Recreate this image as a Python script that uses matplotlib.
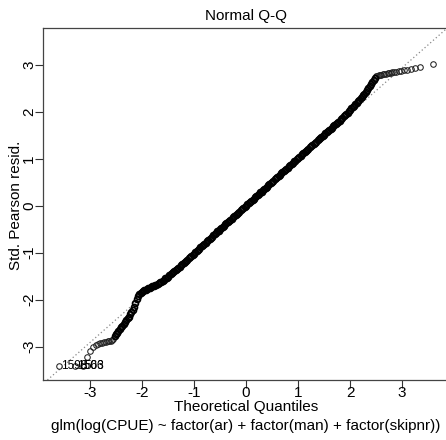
import matplotlib
matplotlib.use("Agg")
import matplotlib.pyplot as plt
import matplotlib.transforms as mtransforms

plt.rcParams['font.family'] = ['Liberation Sans', 'DejaVu Sans']

# lower tail (three tied minima are labelled)
low_x = [-3.59, -3.29, -3.14, -3.05, -2.99, -2.93, -2.88, -2.84, -2.80, -2.76,
         -2.72, -2.69, -2.66, -2.63, -2.60, -2.575, -2.55]
low_y = [-3.42, -3.42, -3.42, -3.21, -3.10, -3.01, -2.97, -2.95, -2.93, -2.92,
         -2.91, -2.90, -2.89, -2.89, -2.88, -2.86, -2.83]

# steep rise around -2.5 .. -1.95
rise_x = [-2.525, -2.5, -2.475, -2.45, -2.425, -2.4, -2.375, -2.35, -2.325, -2.3,
          -2.275, -2.25, -2.225, -2.2, -2.175, -2.15, -2.125, -2.1, -2.075, -2.05,
          -2.025, -2.0, -1.975, -1.95]
rise_y = [-2.78, -2.74, -2.70, -2.66, -2.63, -2.59, -2.56, -2.52, -2.48, -2.44,
          -2.40, -2.36, -2.31, -2.27, -2.22, -2.15, -2.07, -1.98, -1.93, -1.89,
          -1.86, -1.84, -1.82, -1.80]

# body of the distribution
mid_x = [-1.925, -1.9, -1.875, -1.85, -1.825, -1.8, -1.775, -1.75, -1.725, -1.7,
         -1.675, -1.65, -1.625, -1.6, -1.575, -1.55, -1.525, -1.5, -1.475, -1.45,
         -1.425, -1.4, -1.375, -1.35, -1.325, -1.3, -1.275, -1.25, -1.225, -1.2,
         -1.175, -1.15, -1.125, -1.1, -1.075, -1.05, -1.025, -1.0, -0.975, -0.95,
         -0.925, -0.9, -0.875, -0.85, -0.825, -0.8, -0.775, -0.75, -0.725, -0.7,
         -0.675, -0.65, -0.625, -0.6, -0.575, -0.55, -0.525, -0.5, -0.475, -0.45,
         -0.425, -0.4, -0.375, -0.35, -0.325, -0.3, -0.275, -0.25, -0.225, -0.2,
         -0.175, -0.15, -0.125, -0.1, -0.075, -0.05, -0.025, 0.0, 0.025, 0.05,
         0.075, 0.1, 0.125, 0.15, 0.175, 0.2, 0.225, 0.25, 0.275, 0.3,
         0.325, 0.35, 0.375, 0.4, 0.425, 0.45, 0.475, 0.5, 0.525, 0.55,
         0.575, 0.6, 0.625, 0.65, 0.675, 0.7, 0.725, 0.75, 0.775, 0.8,
         0.825, 0.85, 0.875, 0.9, 0.925, 0.95, 0.975, 1.0, 1.025, 1.05,
         1.075, 1.1, 1.125, 1.15, 1.175, 1.2, 1.225, 1.25, 1.275, 1.3,
         1.325, 1.35, 1.375, 1.4, 1.425, 1.45, 1.475, 1.5, 1.525, 1.55,
         1.575, 1.6, 1.625, 1.65, 1.675, 1.7, 1.725, 1.75, 1.775, 1.8,
         1.825, 1.85, 1.875, 1.9, 1.925, 1.95, 1.975, 2.0, 2.025, 2.05,
         2.075, 2.1, 2.125, 2.15, 2.175, 2.2, 2.225, 2.25, 2.275, 2.3,
         2.325, 2.35, 2.375, 2.4, 2.425, 2.45, 2.475]
mid_y = [-1.79, -1.77, -1.76, -1.75, -1.73, -1.72, -1.70, -1.69, -1.68, -1.66,
         -1.65, -1.63, -1.62, -1.60, -1.58, -1.55, -1.53, -1.51, -1.48, -1.46,
         -1.44, -1.41, -1.39, -1.37, -1.34, -1.32, -1.30, -1.27, -1.25, -1.22,
         -1.20, -1.17, -1.15, -1.12, -1.10, -1.07, -1.05, -1.02, -0.99, -0.97,
         -0.94, -0.92, -0.89, -0.86, -0.84, -0.81, -0.79, -0.76, -0.73, -0.71,
         -0.68, -0.66, -0.63, -0.60, -0.58, -0.55, -0.53, -0.50, -0.475, -0.45,
         -0.425, -0.40, -0.375, -0.35, -0.325, -0.30, -0.275, -0.25, -0.225, -0.20,
         -0.175, -0.15, -0.125, -0.10, -0.075, -0.05, -0.025, 0.0, 0.03, 0.05,
         0.08, 0.10, 0.13, 0.15, 0.18, 0.20, 0.23, 0.25, 0.28, 0.30,
         0.33, 0.35, 0.38, 0.40, 0.43, 0.46, 0.48, 0.51, 0.53, 0.56,
         0.58, 0.61, 0.64, 0.66, 0.69, 0.71, 0.74, 0.76, 0.79, 0.81,
         0.84, 0.86, 0.89, 0.91, 0.94, 0.96, 0.99, 1.01, 1.04, 1.06,
         1.09, 1.11, 1.14, 1.16, 1.19, 1.21, 1.24, 1.26, 1.29, 1.31,
         1.34, 1.36, 1.39, 1.41, 1.44, 1.46, 1.49, 1.51, 1.54, 1.56,
         1.59, 1.61, 1.64, 1.66, 1.69, 1.71, 1.74, 1.76, 1.79, 1.81,
         1.84, 1.87, 1.90, 1.92, 1.95, 1.98, 2.01, 2.04, 2.07, 2.10,
         2.13, 2.16, 2.19, 2.22, 2.25, 2.28, 2.31, 2.35, 2.38, 2.42,
         2.46, 2.50, 2.54, 2.58, 2.63, 2.68, 2.72]

# upper shelf and tail
top_x = [2.5, 2.525, 2.55, 2.575, 2.6, 2.63, 2.66, 2.69, 2.72, 2.75, 2.78,
         2.81, 2.85, 2.89, 2.93, 2.98, 3.03, 3.09, 3.17, 3.25, 3.35, 3.59]
top_y = [2.75, 2.76, 2.77, 2.78, 2.79, 2.80, 2.80, 2.81, 2.82, 2.82, 2.83,
         2.84, 2.84, 2.85, 2.86, 2.87, 2.88, 2.89, 2.91, 2.93, 2.95, 3.02]

id_x = [-3.59, -3.29, -3.14]
id_y = [-3.42, -3.42, -3.42]
id_labels = ['1598', '1506', '563']

# reference line (qqline)
line_slope = 0.975
line_icpt = 0.01

ticks = [-3, -2, -1, 0, 1, 2, 3]

W, H = 446, 440
fig = plt.figure(figsize=(W / 100, H / 100), dpi=100)
ax = fig.add_axes([43 / W, 60 / H, 406 / W, 352 / H])

# sparse tails: thin rings; dense body: heavier rings so it reads as solid
ax.plot(low_x + top_x, low_y + top_y, 'o', mfc='none', mec='#222222', ms=4.0, mew=0.75)
ax.plot(rise_x + mid_x, rise_y + mid_y, 'o', mfc='none', mec='black', ms=4.2, mew=1.3)
ax.axline((0, line_icpt), slope=line_slope, color='#888888', lw=0.9,
          linestyle=(0, (1, 2)), zorder=1)
for x, y, s in zip(id_x, id_y, id_labels):
    ax.annotate(s, (x, y), xytext=(1.5, 0), textcoords='offset points',
                fontsize=8.5, ha='left', va='center')

ax.set_xlim(-3.9, 3.9)
ax.set_ylim(-3.71, 3.78)
ax.set_xticks(ticks)
ax.set_yticks(ticks)
ax.set_xticklabels([str(t) for t in ticks])
ax.set_yticklabels([])
ax.tick_params(direction='out', length=5.5, width=0.8, labelsize=11,
               color='#333333')
ax.tick_params(axis='x', pad=-1)

# y tick labels written parallel to the axis, as R does
ytrans = mtransforms.blended_transform_factory(ax.transAxes, ax.transData)
for t in ticks:
    ax.text((29 - 43) / 406, t, str(t), transform=ytrans, rotation=90,
            rotation_mode='anchor', ha='center', va='center', fontsize=11,
            clip_on=False)

for sp in ax.spines.values():
    sp.set_color('#444444')
    sp.set_linewidth(0.9)

fig.text(246 / W, 1 - 16 / H, 'Normal Q-Q', ha='center', va='center', fontsize=11)
fig.text(246 / W, 1 - 407 / H, 'Theoretical Quantiles', ha='center', va='center',
         fontsize=11)
fig.text(246 / W, 1 - 426 / H,
         'glm(log(CPUE) ~ factor(ar) + factor(man) + factor(skipnr))',
         ha='center', va='center', fontsize=11)
fig.text(16 / W, 1 - 205 / H, 'Std. Pearson resid.', ha='center', va='center',
         rotation=90, fontsize=11)

fig.savefig('out.png', dpi=100)
